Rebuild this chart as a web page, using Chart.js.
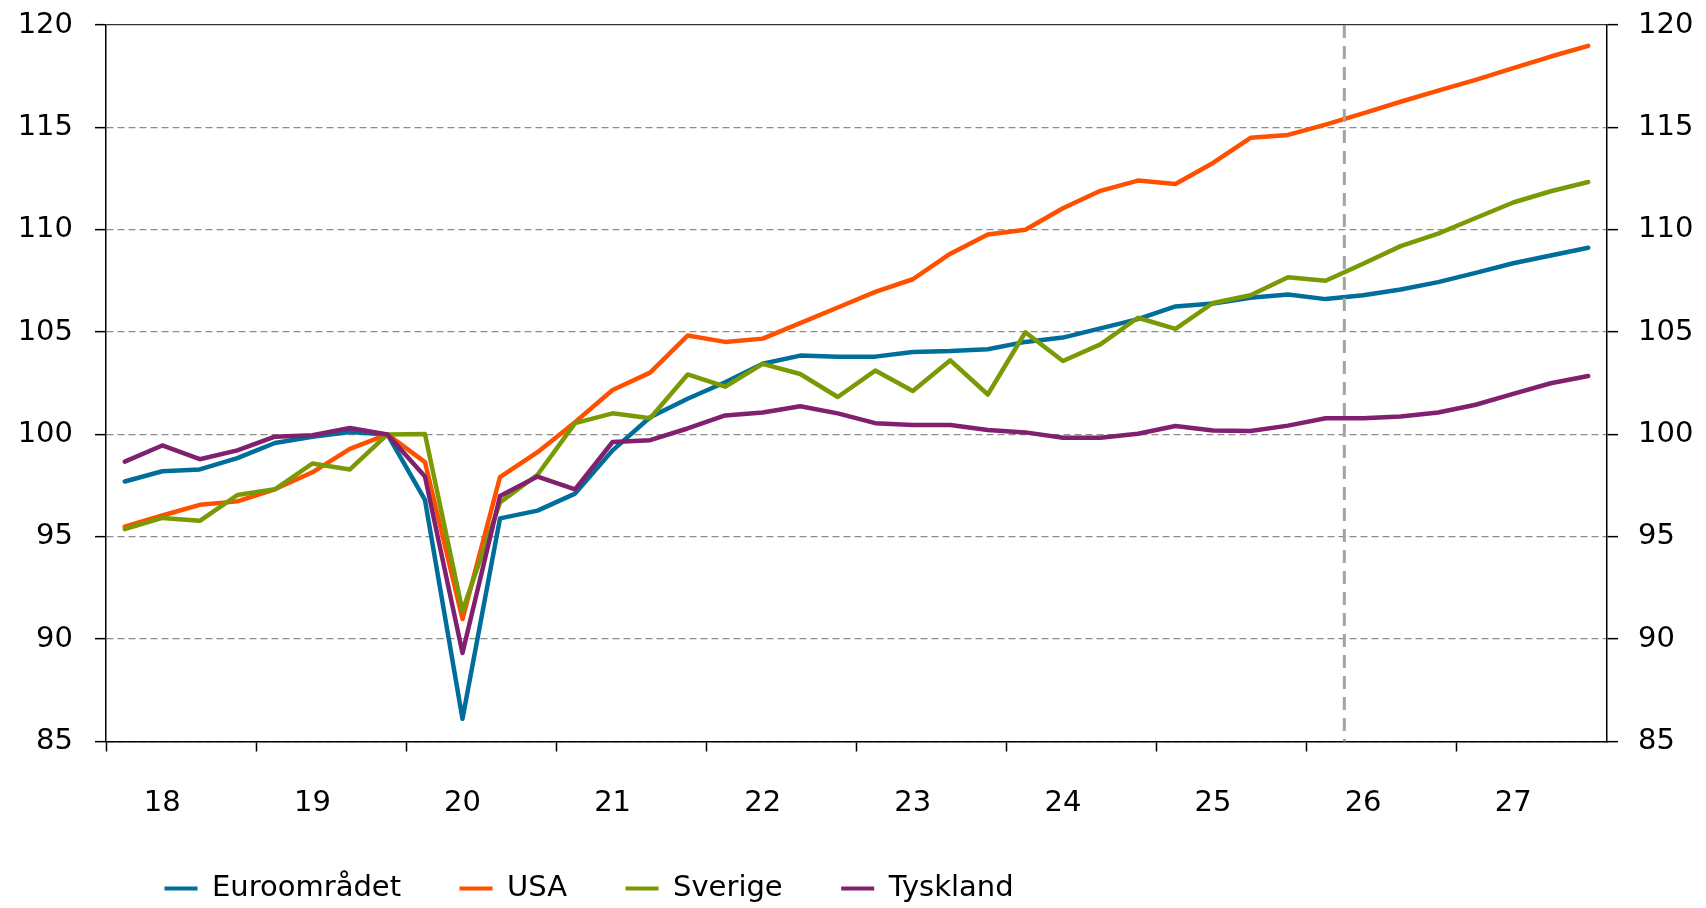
<!DOCTYPE html>
<html>
<head>
<meta charset="utf-8">
<script src="https://cdn.jsdelivr.net/npm/chart.js@4"></script>
<style>
    body { margin: 0; background: #fff; overflow: hidden; }
    #wrap { width: 1706px; height: 908px; }
</style>
</head>
<body>
<div id="wrap"><canvas id="gdpChart"></canvas></div>
<script>
// quarterly index, 2019 Q4 = 100
const years = ['18', '19', '20', '21', '22', '23', '24', '25', '26', '27'];
const quarters = ['kv1', 'kv2', 'kv3', 'kv4'];
const yTicks = [85, 90, 95, 100, 105, 110, 115, 120];
const lastOutcome = '26 kv1'; // dashed line after this quarter

const seriesNames = ['Euroområdet', 'USA', 'Sverige', 'Tyskland'];
const seriesColors = ['#006E9A', '#FF5000', '#7A9A05', '#80206F'];

const euro = [97.70, 98.20, 98.29, 98.84, 99.58, 99.89, 100.12, 100.00, 96.80, 86.11,
    95.90, 96.28, 97.11, 99.22, 100.84, 101.74, 102.55, 103.45, 103.85, 103.80,
    103.80, 104.03, 104.07, 104.16, 104.52, 104.73, 105.18, 105.63, 106.25, 106.39,
    106.68, 106.84, 106.61, 106.80, 107.08, 107.44, 107.89, 108.36, 108.74, 109.12];
const usa = [95.49, 96.04, 96.56, 96.73, 97.32, 98.15, 99.29, 100.00, 98.65, 90.98,
    97.92, 99.13, 100.60, 102.17, 103.02, 104.83, 104.52, 104.68, 105.44, 106.20,
    106.96, 107.58, 108.83, 109.77, 110.00, 111.05, 111.90, 112.40, 112.23, 113.26,
    114.49, 114.63, 115.13, 115.68, 116.25, 116.79, 117.32, 117.89, 118.46, 118.98];
const sverige = [95.37, 95.92, 95.78, 97.04, 97.32, 98.58, 98.29, 100.00, 100.02, 91.38,
    96.68, 98.03, 100.55, 101.03, 100.79, 102.93, 102.33, 103.45, 102.95, 101.83,
    103.12, 102.12, 103.62, 101.95, 104.99, 103.59, 104.40, 105.70, 105.16, 106.42,
    106.80, 107.68, 107.51, 108.34, 109.20, 109.81, 110.57, 111.33, 111.88, 112.33];
const tyskland = [98.67, 99.46, 98.79, 99.22, 99.89, 99.96, 100.31, 100.00, 97.94, 89.32,
    96.99, 97.94, 97.32, 99.63, 99.72, 100.29, 100.93, 101.07, 101.38, 101.03,
    100.55, 100.46, 100.46, 100.22, 100.10, 99.84, 99.84, 100.03, 100.41, 100.19,
    100.17, 100.43, 100.79, 100.79, 100.88, 101.07, 101.45, 101.98, 102.50, 102.85];

const labels = years.flatMap(y => quarters.map(q => y + ' ' + q));
const seriesData = [euro, usa, sverige, tyskland];

const font = { family: "Verdana, 'DejaVu Sans', sans-serif", size: 29 };

const datasets = seriesNames.map((name, i) => ({
    label: name,
    data: seriesData[i],
    borderColor: seriesColors[i],
    backgroundColor: seriesColors[i],
    borderWidth: 4.5,
    borderJoinStyle: 'round',
    borderCapStyle: 'round',
    pointRadius: 0,
    tension: 0,
    order: seriesNames.length - 1 - i // later series on top, like the original
}));

// dashed vertical line between outcome and forecast
const forecastLine = {
    id: 'forecastLine',
    afterDatasetsDraw(chart) {
        const x = chart.scales.x;
        const idx = labels.indexOf(lastOutcome);
        const px = (x.getPixelForValue(idx) + x.getPixelForValue(idx + 1)) / 2;
        const ctx = chart.ctx;
        ctx.save();
        ctx.strokeStyle = '#a3a3a3';
        ctx.lineWidth = 3;
        ctx.setLineDash([13, 8]);
        ctx.beginPath();
        ctx.moveTo(px, chart.chartArea.top);
        ctx.lineTo(px, chart.chartArea.bottom);
        ctx.stroke();
        ctx.restore();
    }
};

const yAxis = (position, onArea, boxWidth) => ({
    type: 'linear',
    position: position,
    min: 85,
    max: 120,
    afterBuildTicks: axis => { axis.ticks = yTicks.map(v => ({ value: v })); },
    afterFit: axis => {
        axis.width = boxWidth;
        axis.paddingTop = 0;
        axis.paddingBottom = 0;
    },
    ticks: {
        font: font,
        color: '#000',
        padding: position === 'left' ? 22 : 20
    },
    grid: {
        drawOnChartArea: onArea,
        color: ctx => ctx.tick && ctx.tick.value === 120 ? '#333' : '#8c8c8c',
        lineWidth: 1.3,
        tickLength: 11,
        tickColor: '#000',
        tickWidth: 1.5,
        tickBorderDash: []
    },
    border: {
        color: '#000',
        width: 1.5,
        dash: ctx => ctx.tick && ctx.tick.value === 120 ? [] : [7, 4]
    }
});

new Chart(document.getElementById('gdpChart'), {
    type: 'line',
    data: { labels: labels, datasets: datasets },
    plugins: [forecastLine],
    options: {
        responsive: true,
        maintainAspectRatio: false,
        animation: false,
        layout: { padding: { top: 25, left: 0, right: 0, bottom: -5 } },
        scales: {
            x: {
                type: 'category',
                offset: true,
                afterFit: axis => {
                    axis.height = 74;
                    axis.paddingLeft = 0;
                    axis.paddingRight = 0;
                },
                ticks: {
                    autoSkip: false,
                    maxRotation: 0,
                    font: font,
                    color: '#000',
                    padding: 35,
                    callback: (v, i) => i % 4 === 1 ? years[Math.floor(i / 4)] : ''
                },
                grid: {
                    offset: true,
                    drawOnChartArea: false,
                    tickLength: 10,
                    tickWidth: 1.5,
                    tickColor: ctx => ctx.index % 4 === 0 ? '#000' : 'rgba(0,0,0,0)'
                },
                border: { color: '#000', width: 1.5 }
            },
            y: yAxis('left', true, 106),
            y2: yAxis('right', false, 99)
        },
        plugins: {
            legend: {
                position: 'bottom',
                align: 'start',
                fullSize: false,
                labels: {
                    font: font,
                    color: '#000',
                    boxWidth: 33,
                    boxHeight: 4,
                    padding: 58.5,
                    sort: (a, b) => a.datasetIndex - b.datasetIndex,
                    generateLabels: chart => Chart.defaults.plugins.legend.labels.generateLabels(chart)
                        .map(item => Object.assign(item, { lineWidth: 0 }))
                }
            },
            tooltip: { enabled: false }
        }
    }
});
</script>
</body>
</html>
